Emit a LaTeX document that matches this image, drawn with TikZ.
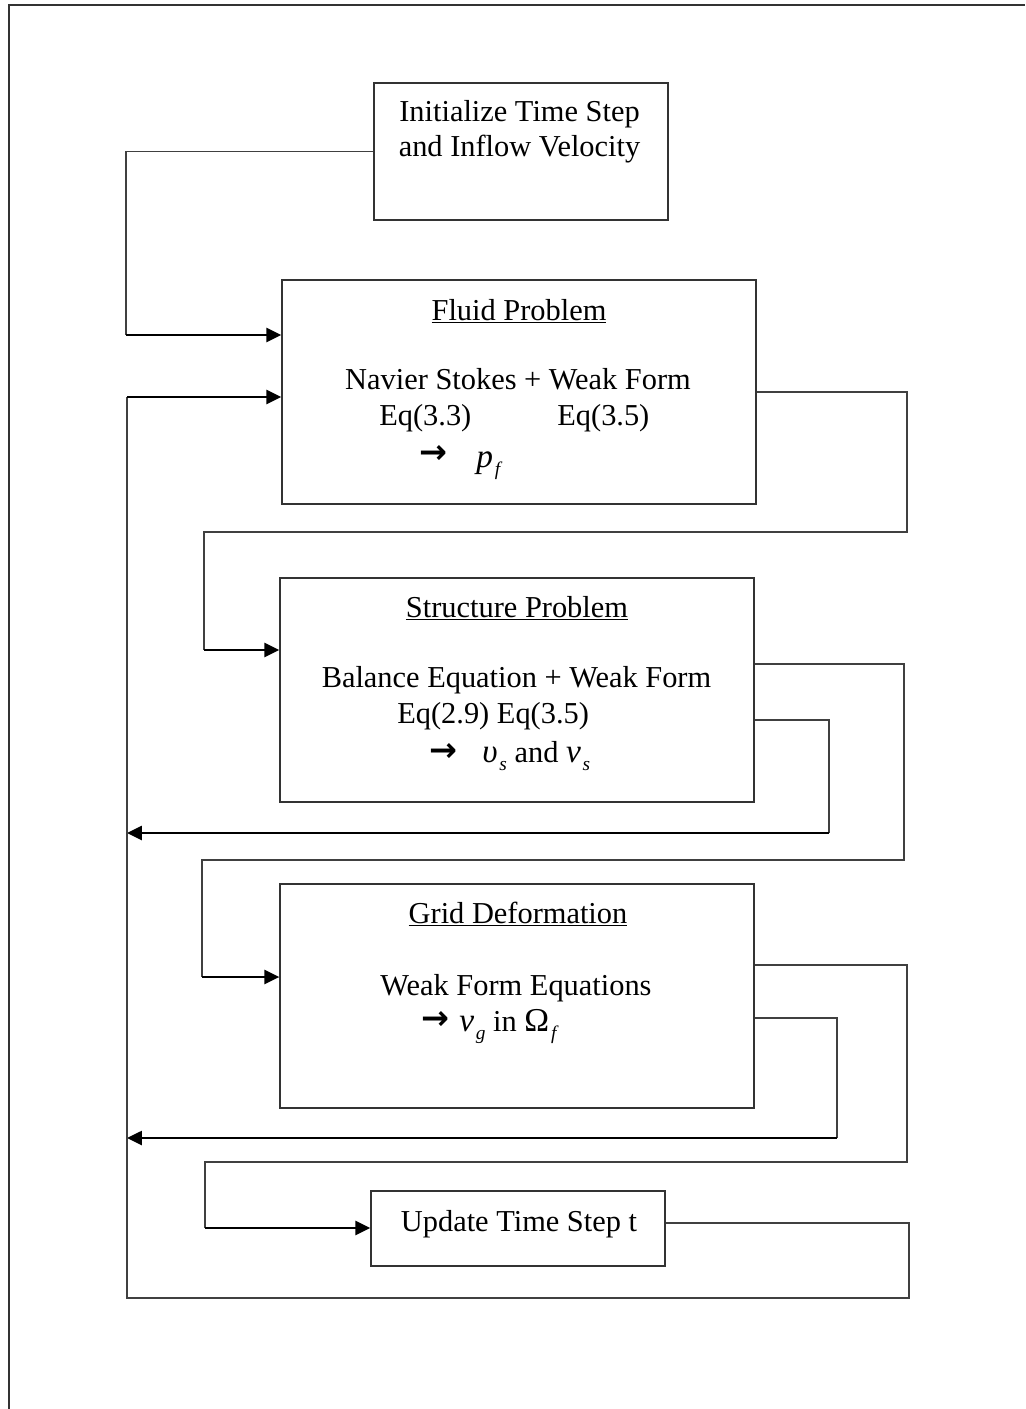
\documentclass[tikz,border=0pt]{standalone}
\usepackage{fontspec}
\setmainfont{Liberation Serif}
\newfontfamily\arrowfont{DejaVu Sans}
\usetikzlibrary{arrows.meta}

\newcommand{\var}[1]{{\fontsize{19}{21}\selectfont\itshape #1}}
\newcommand{\lowsub}[1]{\kern1pt\raisebox{-0.6ex}{\fontsize{11}{11}\selectfont\itshape #1}}
\newcommand{\solvearrow}{{\fontsize{19}{19}\selectfont\arrowfont\bfseries →}}

\begin{document}
\begin{tikzpicture}[
    x=0.02cm, y=-0.02cm,
    font=\fontsize{17.3}{21}\selectfont,
    box/.style={draw=black!80, line width=0.8pt, rectangle, minimum width=9.48cm, minimum height=4.48cm, inner sep=0pt},
    smallbox/.style={box, minimum width=5.88cm},
    txt/.style={inner sep=0pt, anchor=base},
    txtl/.style={inner sep=0pt, anchor=base west},
    link/.style={draw=black!75, line width=0.6pt},
    feed/.style={line width=1.3pt, ->},
    >={Triangle[length=8.5pt,width=8pt]}
]
    \useasboundingbox (0,0) rectangle (1025,1409);

    % Page frame
    \draw[black!80, line width=0.8pt] (9,1409) -- (9,5) -- (1025,5);

    % Boxes
    \node[smallbox, minimum height=2.74cm] (init) at (521,151.5) {};
    \node[box] (fluid) at (519,392) {};
    \node[box] (struct) at (517,690) {};
    \node[box] (grid) at (517,996) {};
    \node[smallbox, minimum height=1.5cm] (update) at (518,1228.5) {};

    % Box texts
    \node[txt] (initA) at (519.5,122) {Initialize Time Step};
    \node[txt] (initB) at (519.5,157) {and Inflow Velocity};

    \node[txt] (fluidT) at (519,320) {\underline{Fluid Problem}};
    \node[txt] (fluidA) at (518,389) {Navier Stokes + Weak Form};
    \node[txtl] (fluidB) at (379,425) {Eq(3.3)};
    \node[txtl] (fluidC) at (557,425) {Eq(3.5)};
    \node[txtl] (fluidD) at (419,463) {\solvearrow};
    \node[txtl] (fluidE) at (476,467) {\var{p}\lowsub{f}};

    \node[txt] (structT) at (517,617) {\underline{Structure Problem}};
    \node[txt] (structA) at (516.5,687) {Balance Equation + Weak Form};
    \node[txtl] (structB) at (397,723) {Eq(2.9) Eq(3.5)};
    \node[txtl] (structD) at (429,761) {\solvearrow};
    \node[txtl] (structE) at (482,762) {\var{υ}\lowsub{s} and \var{ν}\lowsub{s}};

    \node[txt] (gridT) at (518,923) {\underline{Grid Deformation}};
    \node[txt] (gridA) at (516,995) {Weak Form Equations};
    \node[txtl] (gridD) at (421,1029) {\solvearrow};
    \node[txtl] (gridE) at (459,1031) {\var{ν}\lowsub{g} in \var{\upshape Ω}\lowsub{f}};

    \node[txt] (updT) at (519,1231) {Update Time Step t};

    % Bend points
    \coordinate (inA) at (126,335);
    \coordinate (fsA) at (907,532);
    \coordinate (fsB) at (204,650);
    \coordinate (sgA) at (904,664);
    \coordinate (sgB) at (202,860);
    \coordinate (sgC) at (202,977);
    \coordinate (sbA) at (829,720);
    \coordinate (sbB) at (829,833);
    \coordinate (guA) at (907,965);
    \coordinate (guB) at (205,1162);
    \coordinate (guC) at (205,1228);
    \coordinate (gbA) at (837,1018);
    \coordinate (gbB) at (837,1138);
    \coordinate (ubA) at (909,1223);
    \coordinate (ubB) at (127,1298);
    \coordinate (ubC) at (127,397);

    % Init to fluid
    \draw[link] (init.west) -| (inA);
    \draw[feed] (inA) -- (inA -| fluid.west);

    % Fluid to structure
    \draw[link] (fluid.east) -| (fsA) -| (fsB);
    \draw[feed] (fsB) -- (fsB -| struct.west);

    % Structure to grid, and back
    \draw[link] (struct.east |- sgA) -- (sgA) |- (sgB) -- (sgC);
    \draw[feed] (sgC) -- (sgC -| grid.west);
    \draw[link] (struct.east |- sbA) -- (sbA) -- (sbB);
    \draw[feed] (sbB) -- (sbB -| ubC);

    % Grid to update, and back
    \draw[link] (grid.east |- guA) -- (guA) |- (guB) -- (guC);
    \draw[feed] (guC) -- (guC -| update.west);
    \draw[link] (grid.east |- gbA) -- (gbA) -- (gbB);
    \draw[feed] (gbB) -- (gbB -| ubC);

    % Next time step
    \draw[link] (update.east |- ubA) -- (ubA) |- (ubB) -- (ubC);
    \draw[feed] (ubC) -- (ubC -| fluid.west);
\end{tikzpicture}
\end{document}
